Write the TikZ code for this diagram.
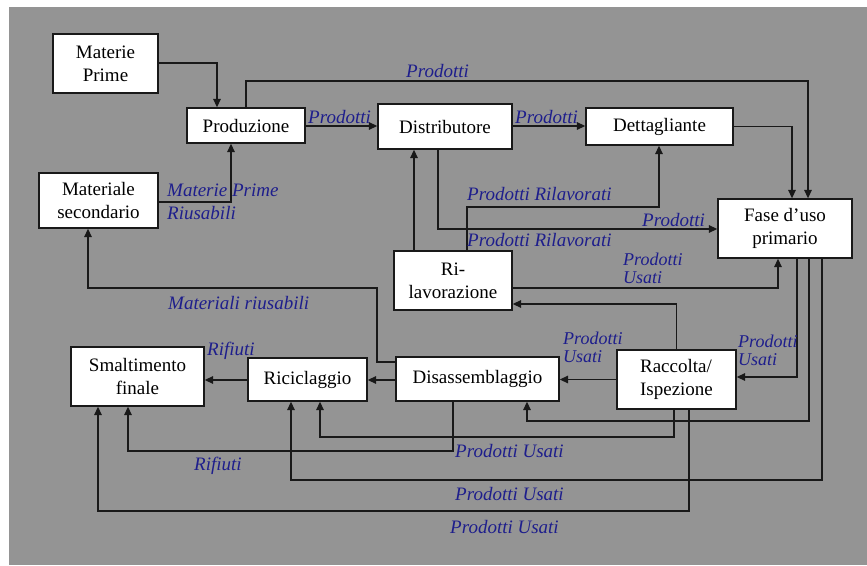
\documentclass[tikz,border=0pt]{standalone}
\usepackage{fontspec}
\setmainfont{Liberation Serif}
\usetikzlibrary{arrows.meta}
\definecolor{bgcol}{RGB}{148,148,148}
\definecolor{labcol}{RGB}{30,30,140}
\definecolor{linecol}{RGB}{25,25,25}
\tikzset{
  box/.style={draw=linecol, line width=1.3pt, fill=white, inner sep=0pt,
    align=center, font=\fontsize{19}{23}\selectfont},
  lab/.style={text=labcol, font=\fontsize{19}{16}\selectfont\itshape,
    inner sep=0pt, anchor=base west},
  lab2/.style={text=labcol, font=\fontsize{18}{17.5}\selectfont\itshape,
    inner sep=0pt, anchor=north west, align=left},
  arr/.style={line width=1.4pt, draw=linecol, -{Triangle[length=8.5pt,width=7.5pt]}},
}
\begin{document}
\begin{tikzpicture}[x=1pt, y=-1pt]
  % page and grey panel
  \fill[white] (0,0) rectangle (867,565);
  \useasboundingbox (0,0) rectangle (867,565);
  \fill[bgcol] (9,7) rectangle (867,565);

  % boxes
  \node[box, minimum width=105pt, minimum height=59pt] (MP) at (105.5,63.5) {Materie\\Prime};
  \node[box, minimum width=118pt, minimum height=35pt] (Prod) at (246,125.5) {Produzione};
  \node[box, minimum width=119pt, minimum height=55pt] (MS) at (98.5,200.5) {Materiale\\secondario};
  \node[box, minimum width=134pt, minimum height=45pt] (Dist) at (445,126.5) {Distributore};
  \node[box, minimum width=147pt, minimum height=37pt] (Dett) at (659.5,126.5) {Dettagliante};
  \node[box, minimum width=134pt, minimum height=59pt] (Fase) at (785,228.5) {Fase d’uso\\primario};
  \node[box, minimum width=118pt, minimum height=59pt] (RiLav) at (453,280.5) {Ri-\\lavorazione};
  \node[box, minimum width=163pt, minimum height=44pt] (Disass) at (477.5,379) {Disassemblaggio};
  \node[box, minimum width=119pt, minimum height=43pt] (Ricic) at (307.5,379.5) {Riciclaggio};
  \node[box, minimum width=133pt, minimum height=59pt] (Smalt) at (137.5,376.5) {Smaltimento\\finale};
  \node[box, minimum width=119pt, minimum height=59pt, align=left] (Racc) at (676.5,379.5) {Raccolta/\\Ispezione};

  % flows between the stages
  \draw[arr] (MP.east |- 0,63) -| (Prod.north -| 217,0);
  \draw[arr] (MS.east |- 0,202) -| (Prod.south -| 231,0);
  \draw[arr] (Prod.east |- 0,126) -- (Dist.west |- 0,126);
  \draw[arr] (Prod.north) |- (808,81) -- (Fase.north -| 808,0);
  \draw[arr] (Dist.east |- 0,126) -- (Dett.west |- 0,126);
  \draw[arr] (Dett.east) -| (Fase.north -| 792,0);
  \draw[arr] (Dist.south -| 438,0) |- (Fase.west |- 0,229);
  \draw[arr] (RiLav.north -| 414,0) -- (Dist.south -| 414,0);
  \draw[arr] (RiLav.north -| 467,0) |- (659,207) -- (Dett.south -| 659,0);
  \draw[arr] (RiLav.east |- 0,288) -| (Fase.south -| 778,0);
  \draw[arr] (Racc.north) |- (RiLav.east |- 0,304);
  \draw[arr] (Racc.west) -- (Disass.east |- Racc.west);
  \draw[arr] (Fase.south -| 797,0) |- (Racc.east |- 0,377);
  \draw[arr] (Fase.south -| 809,0) |- (527,421) -- (Disass.south -| 527,0);
  \draw[arr] (Fase.south -| 822,0) |- (291,480) -- (Ricic.south -| 291,0);
  \draw[arr] (Racc.south -| 674,0) |- (320,437) -- (Ricic.south -| 320,0);
  \draw[arr] (Racc.south -| 689,0) |- (98,511) -- (Smalt.south -| 98,0);
  \draw[arr] (Disass.south -| 453,0) |- (128,451) -- (Smalt.south -| 128,0);
  \draw[arr] (Disass.west |- 0,380) -- (Ricic.east |- 0,380);
  \draw[arr] (Ricic.west |- 0,380) -- (Smalt.east |- 0,380);
  \draw[arr] (Disass.west |- 0,362) -| (377,288) -| (MS.south -| 88,0);

  % flow labels
  \node[lab] (l1) at (406,77) {Prodotti};
  \node[lab] (l2) at (308,123) {Prodotti};
  \node[lab] (l3) at (515,123) {Prodotti};
  \node[lab] (l4) at (167,196) {Materie Prime};
  \node[lab] (l5) at (167,219) {Riusabili};
  \node[lab] (l6) at (467,200) {Prodotti Rilavorati};
  \node[lab] (l7) at (642,226) {Prodotti};
  \node[lab] (l8) at (467,246) {Prodotti Rilavorati};
  \node[lab2] (l9) at (623,253) {Prodotti\\Usati};
  \node[lab] (l10) at (168,309) {Materiali riusabili};
  \node[lab] (l11) at (207,355) {Rifiuti};
  \node[lab2] (l12) at (563,332) {Prodotti\\Usati};
  \node[lab2] (l13) at (738,335) {Prodotti\\Usati};
  \node[lab] (l14) at (455,457) {Prodotti Usati};
  \node[lab] (l15) at (194,470) {Rifiuti};
  \node[lab] (l16) at (455,500) {Prodotti Usati};
  \node[lab] (l17) at (450,533) {Prodotti Usati};
\end{tikzpicture}
\end{document}
